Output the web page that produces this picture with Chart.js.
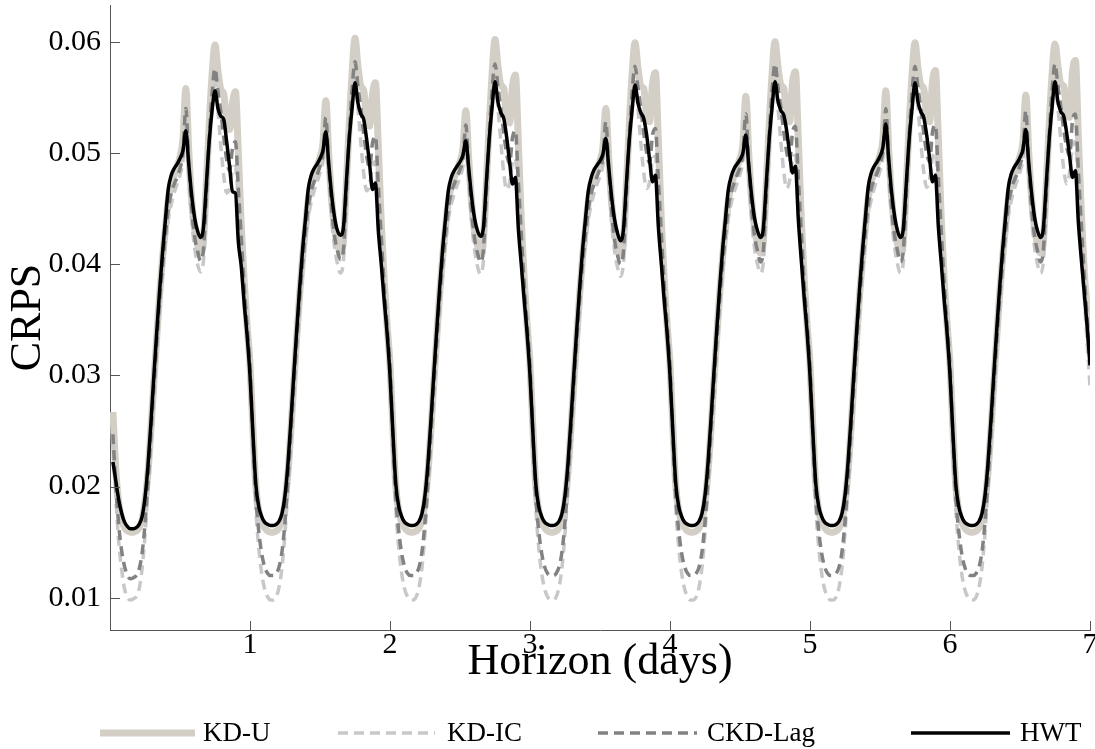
<!DOCTYPE html>
<html>
<head>
<meta charset="utf-8">
<script src="https://cdn.jsdelivr.net/npm/chart.js@4.4.1/dist/chart.umd.min.js"></script>
<style>
  html, body { margin: 0; padding: 0; background: #fff; }
</style>
</head>
<body>
<canvas id="crps" width="1095" height="749"></canvas>
<script>
// Series names, in legend order
const seriesNames = ['KD-U', 'KD-IC', 'CKD-Lag', 'HWT'];

// Tick labels
const xTicks = [1, 2, 3, 4, 5, 6, 7];
const yTicks = [0.01, 0.02, 0.03, 0.04, 0.05, 0.06];

// Half-hourly steps over a 7 day horizon
const stepsPerDay = 48;

// CRPS values in units of 1e-4, one row per day (48 half hours each)
const kdU = [
  267,215,185,170,163,160,159,159,160,163, 170,186,212,250,292,333,372,405,432,458, 472,480,488,496,512,558,502,458,432,418, 410,420,470,525,570,597,574,557,553,527, 521,545,555,500,435,385,345,310,
  252,200,178,168,163,160,159,159,160,163, 170,186,212,250,292,333,372,405,432,458, 472,480,488,496,508,547,498,458,432,418, 411,420,470,525,572,603,578,560,556,530, 524,553,563,505,438,386,345,310,
  252,200,178,168,163,160,159,159,160,163, 170,186,212,250,292,333,372,405,432,456, 470,478,485,492,504,538,494,455,430,417, 410,420,470,525,571,602,578,561,558,532, 527,560,570,510,440,387,346,310,
  252,200,178,168,163,160,159,159,160,163, 170,186,212,250,292,333,372,405,432,456, 470,478,486,493,505,540,495,455,430,415, 408,418,468,523,570,599,577,560,558,533, 528,562,572,512,441,387,346,310,
  252,200,178,168,163,160,159,159,160,163, 170,186,212,250,292,333,372,405,432,457, 471,480,488,495,508,551,499,457,432,418, 410,420,470,525,571,600,578,561,558,533, 528,563,573,512,441,387,346,310,
  252,200,178,168,163,160,159,159,160,163, 170,186,212,250,292,333,372,405,434,460, 474,482,490,498,512,556,502,459,433,418, 410,420,470,525,571,599,577,561,558,533, 528,564,574,513,441,387,346,310,
  252,200,178,168,163,160,159,159,160,163, 170,186,212,250,292,333,372,405,433,459, 473,481,489,497,510,552,500,458,432,418, 410,420,470,525,571,598,578,562,560,537, 532,573,583,515,448,395,360,325
];

const kdIC = [
  242,190,150,125,108,100,98,99,101,108, 126,156,196,240,282,323,360,393,418,440, 454,464,472,480,493,525,482,440,415,400, 393,402,448,503,543,562,538,506,479,464, 468,484,488,455,415,375,338,300,
  238,180,145,122,108,101,98,98,101,110, 128,158,198,242,284,325,362,395,420,442, 456,466,474,482,492,520,480,440,415,400, 392,402,450,505,546,566,541,509,481,466, 471,488,492,456,416,375,338,300,
  238,180,145,122,108,101,98,98,101,110, 128,158,198,242,284,325,362,395,418,440, 454,463,471,478,488,512,476,437,413,398, 391,402,450,505,546,566,541,510,482,467, 473,491,495,458,417,376,338,300,
  238,180,145,122,108,101,98,98,101,110, 128,158,198,242,284,325,362,395,418,440, 454,464,472,479,489,515,477,437,412,397, 389,400,448,503,544,564,540,509,482,468, 474,493,497,459,418,376,338,300,
  238,180,145,122,108,101,98,98,101,110, 128,158,198,242,284,325,362,395,419,441, 455,465,473,481,492,520,480,439,414,400, 392,402,450,505,546,566,541,510,483,468, 475,494,498,460,418,376,338,300,
  238,180,145,122,108,101,98,98,101,110, 128,158,198,242,284,325,362,395,421,444, 458,468,476,484,496,525,483,441,415,400, 392,402,450,505,545,565,541,510,483,469, 476,496,500,461,419,377,338,300,
  238,180,145,122,108,101,98,98,101,110, 128,158,198,242,284,325,362,395,420,443, 457,467,475,483,494,522,481,440,415,400, 392,402,450,505,545,565,541,511,485,472, 482,506,510,462,418,372,330,290
];

const ckdLag = [
  247,200,165,142,128,120,117,118,120,126, 140,166,203,246,288,328,366,398,426,450, 464,472,478,486,500,540,490,450,425,412, 403,412,460,513,553,576,556,537,514,494, 484,504,510,468,424,380,345,308,
  245,190,160,140,128,122,120,120,122,128, 142,168,205,248,290,330,368,400,428,452, 466,474,480,488,498,532,488,450,425,412, 404,412,462,515,557,582,560,540,517,497, 487,509,515,470,425,380,345,308,
  245,190,160,140,128,122,120,120,122,128, 142,168,205,248,290,330,368,400,426,450, 464,472,478,485,495,525,484,447,423,410, 402,412,462,515,556,580,560,540,518,499, 490,514,520,474,428,382,346,308,
  245,190,160,140,128,122,120,120,122,128, 142,168,205,248,290,330,368,400,426,450, 464,472,479,486,496,528,486,447,422,408, 400,410,460,513,554,578,559,540,518,500, 491,516,522,476,429,382,346,308,
  245,190,160,140,128,122,120,120,122,128, 142,168,205,248,290,330,368,400,427,451, 465,473,480,487,499,535,489,450,425,412, 402,412,462,515,556,580,560,541,519,501, 492,518,524,477,430,383,346,308,
  245,190,160,140,128,122,120,120,122,128, 142,168,205,248,290,330,368,400,429,454, 468,476,482,490,502,540,491,451,426,412, 402,412,462,515,555,578,559,540,518,500, 492,519,525,478,430,383,346,308,
  245,190,160,140,128,122,120,120,122,128, 142,168,205,248,290,330,368,400,428,453, 467,475,481,489,501,538,490,450,425,412, 402,412,462,515,556,580,560,542,521,505, 497,529,535,484,437,392,352,312
];

const hwt = [
  222,205,188,176,168,164,162,162,163,166, 173,190,218,256,298,338,376,410,440,468, 480,486,490,495,502,520,490,462,442,430, 424,432,470,510,538,556,540,533,530,510, 488,465,464,420,398,365,336,300,
  248,202,182,173,168,166,165,165,166,169, 176,192,220,258,300,340,378,412,440,468, 480,486,490,495,502,519,490,462,442,430, 426,432,472,512,540,563,545,535,530,512, 490,467,473,430,400,368,338,300,
  248,202,182,173,168,166,165,165,166,169, 176,192,220,258,300,340,378,412,440,466, 478,484,488,492,498,511,486,460,441,430, 425,432,472,512,541,564,546,536,531,514, 492,472,478,432,400,368,338,300,
  248,202,182,173,168,166,165,165,166,169, 176,192,220,258,300,340,378,412,440,466, 478,485,489,493,499,513,487,460,440,428, 421,430,470,510,538,561,545,536,531,516, 494,474,480,434,401,368,338,300,
  248,202,182,173,168,166,165,165,166,169, 176,192,220,258,300,340,378,412,440,467, 479,486,490,494,500,516,489,461,441,430, 424,432,472,512,541,564,547,538,534,520, 500,482,488,440,404,370,339,300,
  248,202,182,173,168,166,165,165,166,169, 176,192,220,258,300,340,378,412,442,470, 482,488,492,497,505,526,494,464,443,430, 424,432,472,512,540,563,546,537,532,516, 495,474,480,434,401,368,338,300,
  248,202,182,173,168,166,165,165,166,169, 176,192,220,258,300,340,378,412,441,469, 481,487,491,496,503,521,491,463,442,430, 424,432,472,512,541,564,546,537,533,518, 497,478,484,438,405,375,345,309
];

// horizon in days for each half-hour step
const horizon = hwt.map((_, i) => (i + 1) / stepsPerDay);

const serif = "'Liberation Serif', 'Times New Roman', serif";

// line looks: KD-U thick beige, the two KD variants dashed greys, HWT solid black
const looks = [
  { color: '#d3cfc7', width: 7, dash: [] },
  { color: '#c8c8c8', width: 3.5, dash: [10, 6] },
  { color: '#828282', width: 3.5, dash: [10, 6] },
  { color: '#000000', width: 3.5, dash: [] }
];

const allSeries = [kdU, kdIC, ckdLag, hwt];

const datasets = allSeries.map((vals, s) => ({
  label: seriesNames[s],
  data: vals.map((v, i) => ({ x: horizon[i], y: v / 10000 })),
  borderColor: looks[s].color,
  borderWidth: looks[s].width,
  borderDash: looks[s].dash,
  pointRadius: 0,
  fill: false,
  cubicInterpolationMode: 'monotone',
  order: 4 - s   // HWT ends up on top
}));

// MATLAB style tick marks pointing into the plot
const inwardTicks = {
  id: 'inwardTicks',
  afterDatasetsDraw(chart) {
    const { ctx, chartArea, scales } = chart;
    ctx.save();
    ctx.strokeStyle = '#555555';
    ctx.lineWidth = 1;
    ctx.beginPath();
    yTicks.forEach(v => {
      const y = Math.round(scales.y.getPixelForValue(v)) + 0.5;
      ctx.moveTo(chartArea.left, y);
      ctx.lineTo(chartArea.left + 10, y);
    });
    xTicks.forEach(v => {
      const x = Math.round(scales.x.getPixelForValue(v)) + 0.5;
      ctx.moveTo(x, chartArea.bottom);
      ctx.lineTo(x, chartArea.bottom - 9);
    });
    ctx.stroke();
    ctx.restore();
  }
};

// legend spread along the bottom like the original figure
const legendSlots = [
  { from: 100, to: 195, text: 203 },
  { from: 338, to: 435, text: 447 },
  { from: 598, to: 697, text: 707 },
  { from: 911, to: 1010, text: 1020 }
];

const bottomLegend = {
  id: 'bottomLegend',
  afterDraw(chart) {
    const ctx = chart.ctx;
    const y = 733;
    chart.data.datasets.forEach((ds, i) => {
      const slot = legendSlots[i];
      ctx.save();
      ctx.strokeStyle = ds.borderColor;
      ctx.lineWidth = ds.borderWidth;
      ctx.setLineDash(ds.borderDash);
      ctx.beginPath();
      ctx.moveTo(slot.from, y);
      ctx.lineTo(slot.to, y);
      ctx.stroke();
      ctx.setLineDash([]);
      ctx.fillStyle = '#000';
      ctx.font = '27px ' + serif;
      ctx.textBaseline = 'middle';
      ctx.fillText(ds.label, slot.text, y + 1);
      ctx.restore();
    });
  }
};

new Chart(document.getElementById('crps'), {
  type: 'line',
  data: { datasets },
  options: {
    responsive: false,
    animation: false,
    layout: { padding: { top: 5, right: 5, bottom: 40, left: 0 } },
    plugins: {
      legend: { display: false },
      tooltip: { enabled: false }
    },
    scales: {
      x: {
        type: 'linear',
        min: 0,
        max: 7,
        afterBuildTicks: s => { s.ticks = xTicks.map(v => ({ value: v })); },
        afterFit: s => { s.height = 79; s.paddingLeft = 0; s.paddingRight = 0; },
        grid: { display: false, drawTicks: false },
        border: { display: true, color: '#555555', width: 1 },
        ticks: { color: '#000', font: { family: serif, size: 30 }, padding: -3, maxRotation: 0, autoSkip: false },
        title: {
          display: true,
          text: 'Horizon (days)',
          color: '#000',
          font: { family: serif, size: 44 },
          padding: { top: 0, bottom: 20 }
        }
      },
      y: {
        min: 0.0071,
        max: 0.0633,
        afterBuildTicks: s => { s.ticks = yTicks.map(v => ({ value: v })); },
        afterFit: s => { s.width = 110; s.paddingTop = 0; s.paddingBottom = 0; },
        grid: { display: false, drawTicks: false },
        border: { display: true, color: '#555555', width: 1 },
        ticks: {
          color: '#000',
          font: { family: serif, size: 30 },
          padding: 9,
          callback: v => v.toFixed(2)
        },
        title: {
          display: true,
          text: 'CRPS',
          color: '#000',
          font: { family: serif, size: 44 },
          padding: { top: 2, bottom: 0 }
        }
      }
    }
  },
  plugins: [inwardTicks, bottomLegend]
});
</script>
</body>
</html>
